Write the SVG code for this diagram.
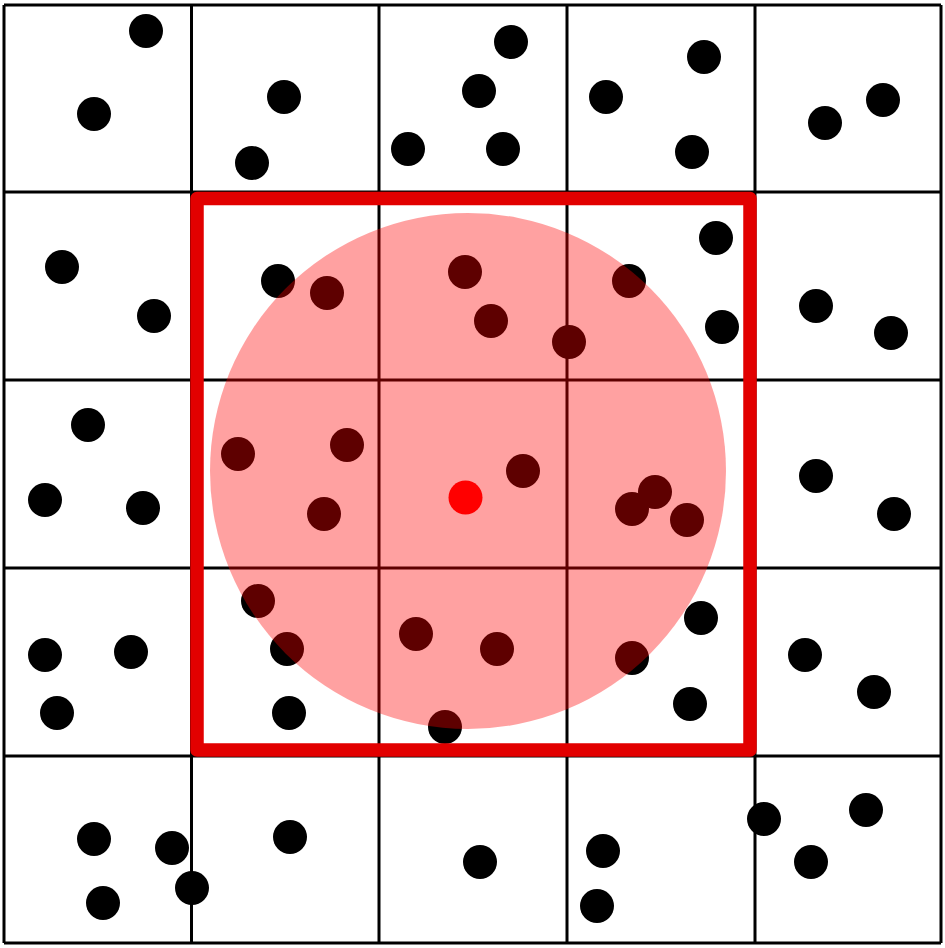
<svg xmlns="http://www.w3.org/2000/svg" width="945" height="948" viewBox="0 0 945 948">
  <style>
    .grid line { stroke: #000; stroke-width: 3; }
    .pts circle { fill: #000; }
  </style>
  <rect x="0" y="0" width="945" height="948" fill="#fff"/>
  <g id="grid" class="grid">
    <line x1="4" y1="5" x2="4" y2="943"/>
    <line x1="191.5" y1="5" x2="191.5" y2="943"/>
    <line x1="379" y1="5" x2="379" y2="943"/>
    <line x1="567" y1="5" x2="567" y2="943"/>
    <line x1="755" y1="5" x2="755" y2="943"/>
    <line x1="941" y1="5" x2="941" y2="943"/>
    <line x1="4" y1="5" x2="941" y2="5"/>
    <line x1="4" y1="192" x2="941" y2="192"/>
    <line x1="4" y1="380" x2="941" y2="380"/>
    <line x1="4" y1="568" x2="941" y2="568"/>
    <line x1="4" y1="756" x2="941" y2="756"/>
    <line x1="4" y1="943" x2="941" y2="943"/>
  </g>
  <g id="points" class="pts">
    <circle cx="146" cy="31" r="17"/>
    <circle cx="94" cy="114" r="17"/>
    <circle cx="284" cy="97" r="17"/>
    <circle cx="252" cy="163" r="17"/>
    <circle cx="511" cy="42" r="17"/>
    <circle cx="479" cy="91" r="17"/>
    <circle cx="408" cy="149" r="17"/>
    <circle cx="503" cy="149" r="17"/>
    <circle cx="704" cy="57" r="17"/>
    <circle cx="606" cy="97" r="17"/>
    <circle cx="692" cy="152" r="17"/>
    <circle cx="883" cy="100" r="17"/>
    <circle cx="825" cy="123" r="17"/>

    <circle cx="62" cy="267" r="17"/>
    <circle cx="154" cy="316" r="17"/>
    <circle cx="278" cy="281" r="17"/>
    <circle cx="327" cy="293" r="17"/>
    <circle cx="465" cy="272" r="17"/>
    <circle cx="491" cy="321" r="17"/>
    <circle cx="569" cy="342" r="17"/>
    <circle cx="629" cy="281" r="17"/>
    <circle cx="716" cy="238" r="17"/>
    <circle cx="722" cy="327" r="17"/>
    <circle cx="816" cy="306" r="17"/>
    <circle cx="891" cy="333" r="17"/>

    <circle cx="88" cy="425" r="17"/>
    <circle cx="45" cy="500" r="17"/>
    <circle cx="143" cy="508" r="17"/>
    <circle cx="238" cy="454" r="17"/>
    <circle cx="347" cy="445" r="17"/>
    <circle cx="324" cy="514" r="17"/>
    <circle cx="523" cy="471" r="17"/>
    <circle cx="655" cy="492" r="17"/>
    <circle cx="632" cy="509" r="17"/>
    <circle cx="687" cy="520" r="17"/>
    <circle cx="816" cy="476" r="17"/>
    <circle cx="894" cy="514" r="17"/>

    <circle cx="45" cy="655" r="17"/>
    <circle cx="131" cy="652" r="17"/>
    <circle cx="57" cy="713" r="17"/>
    <circle cx="258" cy="601" r="17"/>
    <circle cx="287" cy="649" r="17"/>
    <circle cx="289" cy="713" r="17"/>
    <circle cx="416" cy="634" r="17"/>
    <circle cx="497" cy="649" r="17"/>
    <circle cx="445" cy="727" r="17"/>
    <circle cx="701" cy="618" r="17"/>
    <circle cx="632" cy="658" r="17"/>
    <circle cx="690" cy="704" r="17"/>
    <circle cx="805" cy="655" r="17"/>
    <circle cx="874" cy="692" r="17"/>

    <circle cx="94" cy="839" r="17"/>
    <circle cx="172" cy="848" r="17"/>
    <circle cx="103" cy="903" r="17"/>
    <circle cx="192" cy="888" r="17"/>
    <circle cx="290" cy="837" r="17"/>
    <circle cx="480" cy="862" r="17"/>
    <circle cx="603" cy="851" r="17"/>
    <circle cx="597" cy="906" r="17"/>
    <circle cx="764" cy="819" r="17"/>
    <circle cx="866" cy="810" r="17"/>
    <circle cx="811" cy="862" r="17"/>
  </g>
  <g id="search-box">
    <rect x="197" y="198.5" width="553" height="551.5" fill="none" stroke="#e20000" stroke-width="13.5" stroke-linejoin="round"/>
  </g>
  <g id="search-radius">
    <circle cx="468" cy="471" r="258" fill="#ff0000" fill-opacity="0.37"/>
  </g>
  <g id="query-point">
    <circle cx="465.5" cy="497.5" r="17" fill="#ff0000"/>
  </g>
</svg>
